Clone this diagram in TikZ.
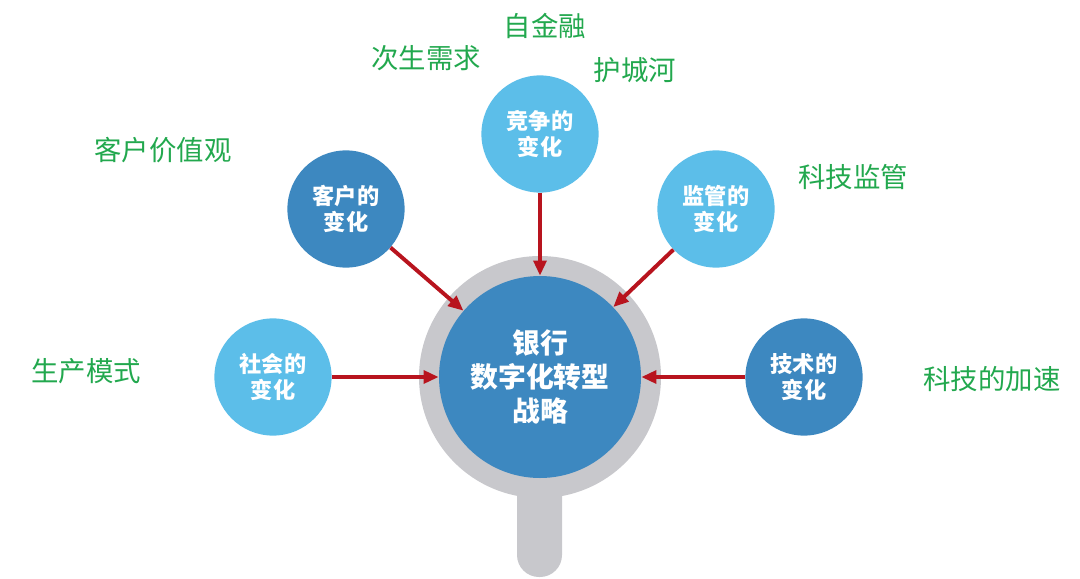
\documentclass[tikz,border=0pt]{standalone}
\usepackage{fontspec}
\setmainfont{Noto Sans CJK SC}
\usepackage{tikz}
\usetikzlibrary{arrows.meta}
\definecolor{darkblue}{HTML}{3D88C0}
\definecolor{lightblue}{HTML}{5CBEE9}
\definecolor{ringgray}{HTML}{C8C8CC}
\definecolor{arrowred}{HTML}{B8141E}
\definecolor{labelgreen}{HTML}{22A84E}

\begin{document}
\begin{tikzpicture}[
    bubble/.style={circle, minimum size=2.93cm, inner sep=0pt, align=center, text=white, font=\bfseries\fontsize{15.8}{19}\selectfont},
    arrow/.style={-{Triangle[length=3.8mm, width=3.2mm]}, line width=2.8pt, draw=arrowred},
    lbl/.style={font=\fontsize{19.5}{23}\selectfont, text=labelgreen}
]
\useasboundingbox (0,0) rectangle (27,14.45);

% magnifier handle and ring
\fill[ringgray, rounded corners=0.55cm] (12.925,0.025) rectangle (14.05,3.6);
\node[circle, fill=ringgray, minimum size=6.05cm, inner sep=0pt] (ring) at (13.5,5.025) {};
\node[circle, fill=darkblue, minimum size=5.05cm, inner sep=0pt, align=center, text=white,
    font=\bfseries\fontsize{19.8}{24}\selectfont] (core) at (13.5,5.025) {银行\\数字化转型\\战略};

\node[bubble, fill=darkblue] (customer) at (8.65,9.225) {客户的\\变化};
\node[bubble, fill=lightblue] (compete) at (13.5,11.1) {竞争的\\变化};
\node[bubble, fill=lightblue] (regulate) at (17.9,9.225) {监管的\\变化};
\node[bubble, fill=lightblue] (society) at (6.825,5.025) {社会的\\变化};
\node[bubble, fill=darkblue] (tech) at (20.1,5.025) {技术的\\变化};

\draw[arrow] (customer) -- (core);
\draw[arrow] (compete) -- (core);
\draw[arrow] (regulate) -- (core);
\draw[arrow] (society) -- (core);
\draw[arrow] (tech) -- (core);

\node[lbl] (selffin) at (13.625,13.8) {自金融};
\node[lbl] (derived) at (10.65,13.0) {次生需求};
\node[lbl] (moat) at (15.875,12.7) {护城河};
\node[lbl] (values) at (4.075,10.7) {客户价值观};
\node[lbl] (regtech) at (21.325,10.025) {科技监管};
\node[lbl] (speedup) at (24.8,4.975) {科技的加速};
\node[lbl] (produce) at (2.15,5.175) {生产模式};
\end{tikzpicture}
\end{document}
